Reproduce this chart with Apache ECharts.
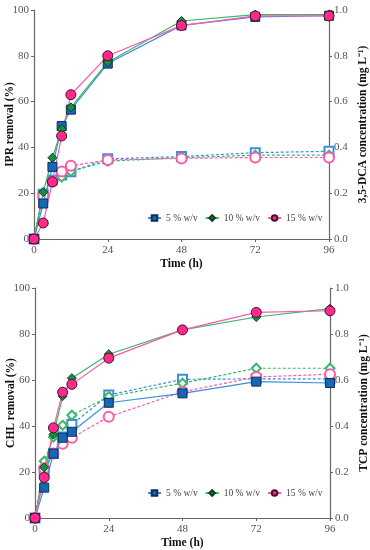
<!DOCTYPE html>
<html><head><meta charset="utf-8">
<script src="https://cdn.jsdelivr.net/npm/echarts@6/dist/echarts.min.js"></script>
<style>html,body{margin:0;padding:0;background:#fff}#c{width:370px;height:550px}</style>
</head><body><div id="c"></div>
<script>
const time = [0, 3, 6, 9, 12, 24, 48, 72, 96];
const seriesNames = ['5 % w/v', '10 % w/v', '15 % w/v'];
// Top panel: IPR removal (%)
const iprRemoval5 = [0, 15.5, 31.5, 49.3, 56.5, 76.6, 93.3, 97, 97.5];
const iprRemoval10 = [0, 20.5, 35.5, 48, 57.5, 77.2, 95.2, 98, 98];
const iprRemoval15 = [0, 7, 25, 45, 63, 80, 93.2, 97.4, 97.4];
// Top panel: 3,5-DCA concentration (mg L-1)
const dca5 = [0, 0.195, 0.257, 0.279, 0.294, 0.35, 0.36, 0.377, 0.383];
const dca10 = [0, 0.20, 0.25, 0.27, 0.295, 0.34, 0.355, 0.366, 0.366];
const dca15 = [0, 0.19, 0.25, 0.295, 0.32, 0.345, 0.352, 0.356, 0.356];
// Bottom panel: CHL removal (%)
const chlRemoval5 = [0, 13.2, 28, 34.9, 37.5, 50.1, 54.2, 59.3, 58.7];
const chlRemoval10 = [0, 22, 36.3, 53, 60.8, 71.2, 81.8, 87.4, 91];
const chlRemoval15 = [0, 17.6, 39.2, 54.7, 58.1, 69.5, 81.8, 89.4, 90.1];
// Bottom panel: TCP concentration (mg L-1)
const tcp5 = [0, 0.205, 0.28, 0.352, 0.407, 0.535, 0.603, 0.605, 0.605];
const tcp10 = [0, 0.247, 0.352, 0.403, 0.447, 0.528, 0.586, 0.651, 0.651];
const tcp15 = [0, 0.215, 0.28, 0.323, 0.349, 0.44, 0.549, 0.613, 0.625];

const colors = {
  line: ['#3a8fde', '#39b86a', '#ff5aa8'],
  fill: ['#1867b5', '#12913f', '#ff2a8c'],
  border: ['#0b2f55', '#0b3b1e', '#4a0f2c']
};
const solidSym = ['rect', 'diamond', 'circle'];
const emptySym = ['emptyRect', 'emptyDiamond', 'emptyCircle'];
const solidSize = [9, 9, 10];
const emptySize = [9, 9, 10];
const FONT = '"Liberation Serif", "Times New Roman", serif';

const pairs = (vals) => time.map((t, i) => [t, vals[i]]);

function solid(i, vals, xi, yi) {
  return {
    name: seriesNames[i], type: 'line', xAxisIndex: xi, yAxisIndex: yi,
    data: pairs(vals), symbol: solidSym[i], symbolSize: solidSize[i],
    lineStyle: {color: colors.line[i], width: 1.2},
    itemStyle: {color: colors.fill[i], borderColor: colors.border[i], borderWidth: 1},
    z: 5, animation: false
  };
}
function dotted(i, vals, xi, yi) {
  return {
    name: 'd' + seriesNames[i], type: 'line', xAxisIndex: xi, yAxisIndex: yi,
    data: pairs(vals), symbol: emptySym[i], symbolSize: emptySize[i],
    lineStyle: {color: colors.line[i], width: 1.2, type: [3, 2]},
    itemStyle: {color: colors.line[i], borderWidth: 1},
    z: 3, animation: false
  };
}

const axisLabel = {fontFamily: FONT, fontSize: 11, color: '#555'};
const nameStyle = {fontFamily: FONT, fontSize: 11.5, fontWeight: 'bold', color: '#111'};
const axisLine = {show: true, lineStyle: {color: '#666', width: 1.2}};
const axisTick = {show: true, inside: false, length: 3, lineStyle: {color: '#666'}};

function xAxis(gi) {
  return {
    type: 'value', gridIndex: gi, min: 0, max: 96, interval: 24,
    name: 'Time (h)', nameLocation: 'middle', nameGap: 19, nameMoveOverlap: false, nameTextStyle: nameStyle,
    axisLine: axisLine, axisTick: axisTick, splitLine: {show: false},
    axisLabel: Object.assign({}, axisLabel, {margin: 6})
  };
}
function yLeft(gi, name) {
  return {
    type: 'value', gridIndex: gi, min: 0, max: 100, interval: 20, position: 'left',
    name: name, nameLocation: 'middle', nameGap: 18, nameRotate: 90, nameMoveOverlap: false, nameTextStyle: nameStyle,
    axisLine: axisLine, axisTick: axisTick, splitLine: {show: false},
    axisLabel: Object.assign({}, axisLabel, {margin: 5})
  };
}
function yRight(gi, name) {
  return {
    type: 'value', gridIndex: gi, min: 0, max: 1, interval: 0.2, position: 'right',
    name: name, nameLocation: 'middle', nameGap: 28, nameRotate: 90, nameMoveOverlap: false, nameTextStyle: nameStyle,
    axisLine: axisLine, axisTick: axisTick, splitLine: {show: false},
    axisLabel: Object.assign({}, axisLabel, {margin: 5, formatter: v => v.toFixed(1)})
  };
}

const legendCommon = {
  data: seriesNames, itemWidth: 13, itemHeight: 7, itemGap: 7,
  textStyle: {fontFamily: FONT, fontSize: 9.5, color: '#444'},
  left: 147, width: 220, padding: 0, orient: 'horizontal'
};

const option = {
  backgroundColor: '#fff',
  grid: [
    {left: 34, right: 41, top: 10, height: 229, containLabel: false, outerBoundsMode: 'none'},
    {left: 35, right: 40, top: 288, height: 230, containLabel: false, outerBoundsMode: 'none'}
  ],
  xAxis: [xAxis(0), xAxis(1)],
  yAxis: [
    yLeft(0, 'IPR removal (%)'),
    yRight(0, '3,5-DCA concentration (mg L\u207B\u00B9)'),
    yLeft(1, 'CHL removal (%)'),
    yRight(1, 'TCP concentration (mg L\u207B\u00B9)')
  ],
  legend: [
    Object.assign({}, legendCommon, {top: 213}),
    Object.assign({}, legendCommon, {top: 488})
  ],
  series: [
    dotted(0, dca5, 0, 1), dotted(1, dca10, 0, 1), dotted(2, dca15, 0, 1),
    solid(0, iprRemoval5, 0, 0), solid(1, iprRemoval10, 0, 0), solid(2, iprRemoval15, 0, 0),
    dotted(0, tcp5, 1, 3), dotted(1, tcp10, 1, 3), dotted(2, tcp15, 1, 3),
    solid(0, chlRemoval5, 1, 2), solid(1, chlRemoval10, 1, 2), solid(2, chlRemoval15, 1, 2)
  ]
};
const chart = echarts.init(document.getElementById('c'), null, {renderer: 'canvas'});
chart.setOption(option);
</script></body></html>
